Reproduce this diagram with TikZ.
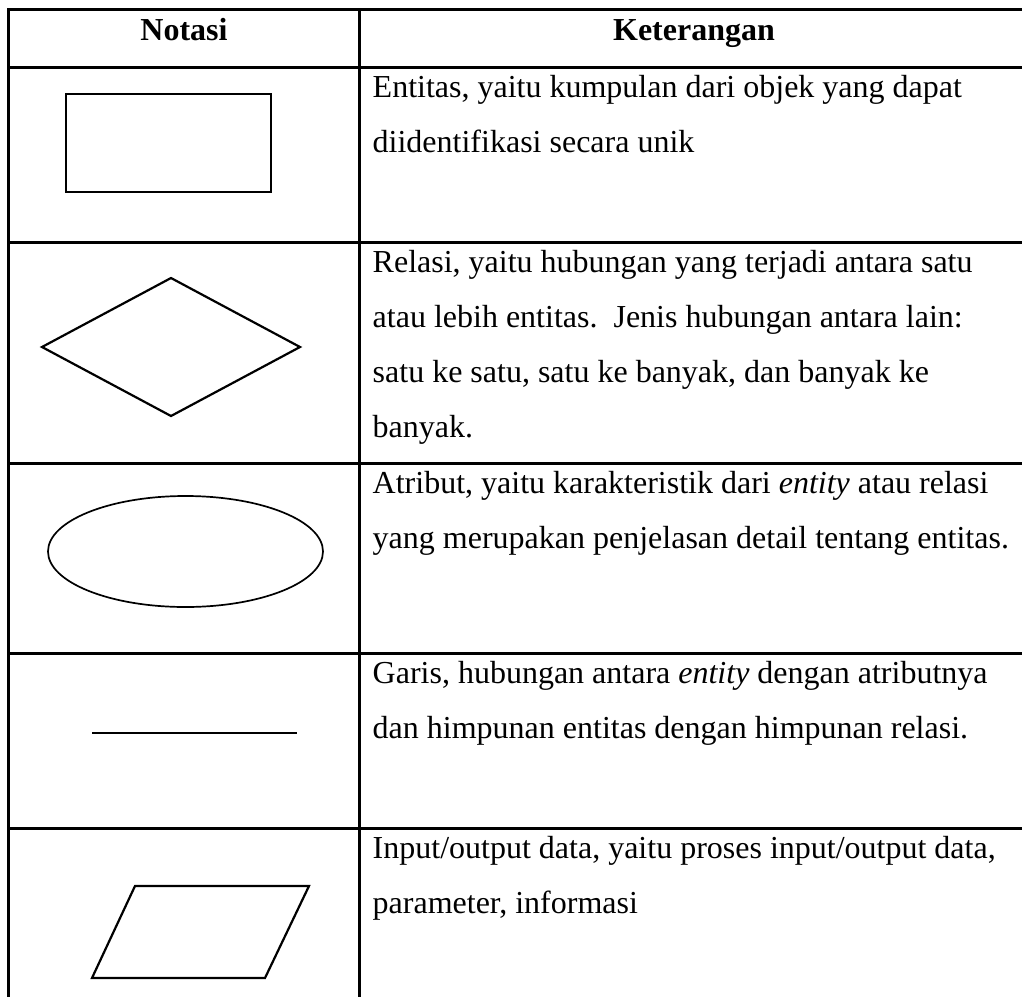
\documentclass[tikz,border=0pt]{standalone}
\usepackage{fontspec}
\setmainfont{Liberation Serif}
\begin{document}
\begin{tikzpicture}[x=1pt,y=-1pt,
  txt/.style={anchor=base west, inner sep=0pt, font=\fontsize{32}{38}\selectfont},
  hdr/.style={anchor=base, inner sep=0pt, font=\fontsize{32}{38}\selectfont\bfseries},
  gridline/.style={line width=3pt, line cap=rect},
  shp/.style={line width=2.2pt, line join=miter},
  thinshp/.style={line width=1.7pt}]
\useasboundingbox (0,0) rectangle (1022,996);
\fill[white] (0,0) rectangle (1022,996);
% table grid
\coordinate (tl) at (8.5,9.3);
\coordinate (tr) at (1022,9.3);
\coordinate (bl) at (8.5,996);
\coordinate (ct) at (359,9.3);
\coordinate (cb) at (359,996);
\draw[gridline] (tl) -- (tr);
\draw[gridline] (tl) -- (bl);
\draw[gridline] (ct) -- (cb);
\foreach \yy/\nm in {67/h1,242/h2,463/h3,653/h4,828/h5}{
  \coordinate (\nm a) at (8.5,\yy);
  \coordinate (\nm b) at (1022,\yy);
  \draw[gridline] (\nm a) -- (\nm b);
}
% header
\node[hdr] (hnot) at (184,40) {Notasi};
\node[hdr] (hket) at (694,40) {Keterangan};
% row 1: entity rectangle
\draw[shp] (66,94) rectangle (271,192);
\node[txt] (r1a) at (372.5,97) {Entitas, yaitu kumpulan dari objek yang dapat};
\node[txt] (r1b) at (372.5,152) {diidentifikasi secara unik};
% row 2: relation diamond
\draw[shp] (42,347) -- (171,278) -- (300,347) -- (171,416) -- cycle;
\node[txt] (r2a) at (372.5,272) {Relasi, yaitu hubungan yang terjadi antara satu};
\node[txt] (r2b) at (372.5,327) {atau lebih entitas.\ \ Jenis hubungan antara lain:};
\node[txt] (r2c) at (372.5,382) {satu ke satu, satu ke banyak, dan banyak ke};
\node[txt] (r2d) at (372.5,437) {banyak.};
% row 3: attribute ellipse
\draw[thinshp] (185.5,551.5) ellipse [x radius=137.5, y radius=55.5];
\node[txt] (r3a) at (372.5,493) {Atribut, yaitu karakteristik dari \textit{entity} atau relasi};
\node[txt] (r3b) at (372.5,548) {yang merupakan penjelasan detail tentang entitas.};
% row 4: line
\draw[shp] (92,733) -- (297,733);
\node[txt] (r4a) at (372.5,683) {Garis, hubungan antara \textit{entity} dengan atributnya};
\node[txt] (r4b) at (372.5,738) {dan himpunan entitas dengan himpunan relasi.};
% row 5: parallelogram
\draw[shp] (135,886) -- (309,886) -- (265,978) -- (92,978) -- cycle;
\node[txt] (r5a) at (372.5,858) {Input/output data, yaitu proses input/output data,};
\node[txt] (r5b) at (372.5,913) {parameter, informasi};
\end{tikzpicture}
\end{document}
